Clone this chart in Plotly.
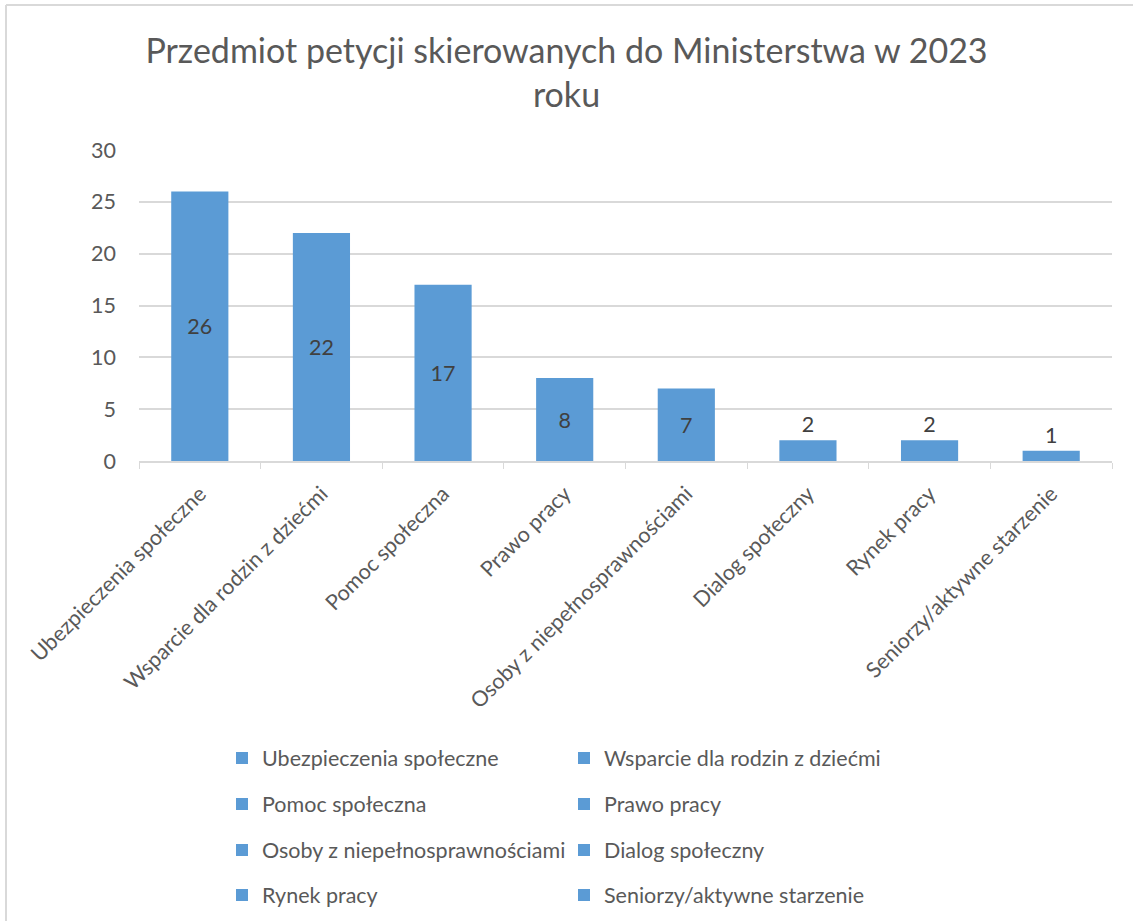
import plotly.graph_objects as go

categories = [
    "Ubezpieczenia społeczne",
    "Wsparcie dla rodzin z dziećmi",
    "Pomoc społeczna",
    "Prawo pracy",
    "Osoby z niepełnosprawnościami",
    "Dialog społeczny",
    "Rynek pracy",
    "Seniorzy/aktywne starzenie",
]
values = [26, 22, 17, 8, 7, 2, 2, 1]
title_text = "Przedmiot petycji skierowanych do Ministerstwa w 2023<br>roku"

W, H = 1133, 921
L, R, T, B = 139, 21, 150, 460
pw, ph = W - L - R, H - T - B

def px_x(x):
    return (x - L) / pw

def px_y(y):
    return (H - B - y) / ph

FONT = "Lato"
TXT = "#595959"
BAR = "#5B9BD5"
GRID = "#D9D9D9"
FS = 21.5

fig = go.Figure()
legends = ["legend", "legend2", "legend3", "legend4"]
for i, (c, v) in enumerate(zip(categories, values)):
    fig.add_trace(go.Bar(
        x=[c], y=[v], name=c,
        marker=dict(color=BAR, line=dict(width=0)),
        text=[str(v)],
        textposition="inside" if v >= 5 else "outside",
        insidetextanchor="middle",
        textangle=0,
        textfont=dict(family=FONT, size=FS, color="#404040"),
        cliponaxis=False,
        legend=legends[i // 2],
        width=0.47,
    ))

row_y = [758, 804, 850, 895]
leg_common = dict(
    orientation="h", xanchor="left", yanchor="middle",
    font=dict(family=FONT, size=FS, color=TXT),
    entrywidth=297, entrywidthmode="pixels",
    bgcolor="rgba(0,0,0,0)", itemwidth=30, tracegroupgap=0,
)
layout_legends = {}
for k, name in enumerate(legends):
    layout_legends[name] = dict(x=px_x(222), y=px_y(row_y[k]), **leg_common)

fig.update_layout(
    width=W, height=H,
    margin=dict(l=L, r=R, t=T, b=B, autoexpand=False),
    paper_bgcolor="white", plot_bgcolor="white",
    barmode="overlay",
    showlegend=True,
    title=dict(text=title_text, x=0.5, xref="container", xanchor="center",
               y=1 - 63 / H, yanchor="middle",
               font=dict(family=FONT, size=34, color=TXT)),
    xaxis=dict(
        type="category", categoryorder="array", categoryarray=categories,
        tickangle=-45, tickfont=dict(family=FONT, size=FS, color=TXT),
        showline=True, linecolor=GRID, linewidth=1.5,
        ticks="outside", tickson="boundaries", ticklen=6, tickcolor=GRID,
        showgrid=False, range=[-0.5, len(categories) - 0.5],
        automargin=False, ticklabelstandoff=10,
    ),
    yaxis=dict(
        range=[0, 30], dtick=5, tickfont=dict(family=FONT, size=FS, color=TXT),
        showgrid=True, gridcolor=GRID, gridwidth=1.5, zeroline=False,
        showline=False, ticks="", ticklabelstandoff=22, automargin=False,
    ),
    shapes=[
        dict(type="line", xref="paper", yref="paper",
             x0=px_x(6), x1=px_x(1140), y0=px_y(5), y1=px_y(5),
             line=dict(color=GRID, width=2)),
        dict(type="line", xref="paper", yref="paper",
             x0=px_x(6), x1=px_x(6), y0=px_y(5), y1=px_y(930),
             line=dict(color=GRID, width=2)),
    ],
    **layout_legends,
)

fig.write_html("out.html", config={"displayModeBar": False},
               post_script="document.body.style.margin='0';")
